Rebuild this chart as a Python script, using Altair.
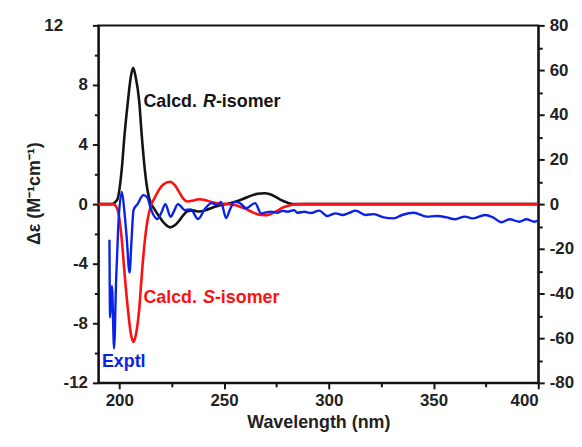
import altair as alt
import pandas as pd

# ---- data ----
# Calcd. R-isomer (right axis units)
r_wl = [190, 196, 199, 201.2, 202.5, 204.1, 205.5, 206.6, 207.8, 209.5, 210.7, 212, 213.5, 215,
        216.6, 219, 221.4, 224.2, 226.5, 228.5, 230.5, 232.5, 235, 238, 241, 244, 247, 250,
        255, 259, 263, 266, 269.3, 272, 275, 278, 281, 284, 400]
r_val = [0, 0, 2, 16, 31, 46, 57, 61, 57, 46, 31, 17, 6, 0.5,
         -2, -5.5, -8.5, -10.4, -9.5, -7.5, -5, -3.2, -2.8, -3.3, -2.8, -1.7, -0.8, -0.2,
         1, 2.3, 3.8, 4.6, 4.9, 4.4, 3, 1.5, 0.4, 0, 0]

# Calcd. S-isomer (right axis units)
s_wl = [190, 197, 199, 201.2, 202.5, 204.1, 205.5, 206.8, 208, 209.5, 210.7, 212, 213.5, 215,
        217, 219, 221, 224.2, 226.5, 228.5, 230.5, 232.5, 235, 238, 241, 244, 248, 252,
        256, 260, 264, 267, 269.5, 272, 275, 278, 281, 284, 287, 400]
s_val = [0, 0, -2, -16, -31, -47, -58, -61.7, -58, -47, -32, -18, -7, -1,
         3, 6.5, 8.8, 10, 8.5, 5.5, 2.5, 1.2, 1.5, 2.2, 1.8, 0.9, 0.2, 0,
         -0.6, -2, -3.8, -4.8, -5, -4.5, -3.2, -1.6, -0.6, -0.1, 0, 0]

# Exptl (left axis units)
exp_wl = [195.3, 195.6, 196.5, 197.5, 198.5, 199.5, 201.2, 202.5, 203.5, 204.9, 205.8, 206.8,
          208.7, 211.5, 213.4, 215, 218.2, 220, 222, 224.5, 226, 228, 231.3, 234, 237.6, 241,
          244, 247, 248.5, 251, 253, 255, 257.4, 260.6, 264.8, 267.7, 270, 272.4, 275.6, 278,
          280.3, 283.5, 285, 288.3, 291.4, 295.4, 299.3, 303.3, 306.5, 309.5, 312.8, 317.5,
          321.5, 326.2, 331, 335, 340.5, 346.8, 351.5, 356.3, 360.2, 365, 369, 374.5, 378.4,
          382.4, 386.3, 391, 394.3, 398.2, 400]
exp_val = [-2.4, -7.6, -5.5, -9.7, -5.0, -1.5, 0.82, -0.6, -2.2, -4.6, -2.5, -0.4,
           0.0, 0.6, 0.45, -0.3, -1.0, -0.6, 0.0, -0.85, -0.5, 0.0, -0.4, -0.35, -1.0, -0.3,
           0.07, -0.07, 0.15, -0.93, -0.3, 0.15, 0.09, -0.27, 0.07, -0.62, -0.55, -0.5, -0.58, -0.45,
           -0.51, -0.4, -0.58, -0.51, -0.6, -0.44, -0.8, -0.62, -0.73, -0.6, -0.44, -0.73,
           -0.67, -0.89, -0.96, -0.73, -0.58, -0.84, -0.8, -0.89, -1.02, -0.84, -0.96, -0.73, -0.89,
           -1.22, -1.02, -1.18, -1.02, -1.18, -1.1]

x_ticks = [200, 225, 250, 275, 300, 325, 350, 375, 400]
left_ticks = list(range(-12, 13, 2))
right_ticks = list(range(-80, 81, 10))

# annotation anchors (left-axis units)
label_wl = [211.5, 211.5, 191.7]
label_v = [6.83, -6.33, -10.6]

FONT = "Liberation Sans"
BLACK = "#141414"
RED = "#ff1010"
BLUE = "#0a22e8"

r_df = pd.DataFrame({"wl": r_wl, "v": r_val})
s_df = pd.DataFrame({"wl": s_wl, "v": s_val})
e_df = pd.DataFrame({"wl": exp_wl, "v": exp_val})

common_axis = dict(
    grid=False, domainColor=BLACK, domainWidth=2, tickColor=BLACK, tickWidth=2,
    labelFont=FONT, labelFontSize=17, labelFontWeight="bold", labelColor="#222222",
    titleFont=FONT, titleFontSize=18, titleFontWeight="bold", titleColor="#222222",
)

x_axis = alt.Axis(
    title="Wavelength (nm)", values=x_ticks,
    labelExpr="datum.value % 50 == 0 ? toString(datum.value) : ''",
    tickSize={"condition": {"test": "datum.value % 50 != 0", "value": 4}, "value": 6},
    labelPadding=4, titleY=45, titleBaseline="alphabetic", **common_axis)
x_enc = alt.X("wl:Q", scale=alt.Scale(domain=[190, 400], nice=False, zero=False), axis=x_axis)

left_axis = alt.Axis(
    orient="left", title="Δε (M⁻¹cm⁻¹)", values=left_ticks,
    labelExpr="datum.value % 4 == 0 ? toString(datum.value) : ''",
    tickSize={"condition": {"test": "datum.value % 4 != 0", "value": 4}, "value": 6},
    labelPadding={"condition": {"test": "datum.value == 12", "value": 30}, "value": 5},
    titleX=-64, titleY=169, titleBaseline="middle", titleAngle=270, **common_axis)
left_y = alt.Y("v:Q", scale=alt.Scale(domain=[-12, 12], nice=False), axis=left_axis)

right_axis = alt.Axis(
    orient="right", title=None, values=right_ticks,
    labelExpr="datum.value % 20 == 0 ? toString(datum.value) : ''",
    tickSize={"condition": {"test": "datum.value % 20 != 0", "value": 4}, "value": 6},
    labelPadding=5, **common_axis)
right_y = alt.Y("v:Q", scale=alt.Scale(domain=[-80, 80], nice=False), axis=right_axis)

black_line = alt.Chart(r_df).mark_line(color=BLACK, strokeWidth=2.6, interpolate="monotone").encode(x=x_enc, y=right_y)
red_line = alt.Chart(s_df).mark_line(color=RED, strokeWidth=2.6, interpolate="monotone").encode(x=x_enc, y=right_y)
calc = alt.layer(black_line, red_line)

blue_line = alt.Chart(e_df).mark_line(color=BLUE, strokeWidth=2.4, interpolate="monotone").encode(x=x_enc, y=left_y)


def piece(i, txt, dx, color, italic=False):
    df = pd.DataFrame({"wl": [label_wl[i]], "v": [label_v[i]], "t": [txt]})
    kw = dict(align="left", baseline="middle", dx=dx, font=FONT, fontSize=18,
              fontWeight="bold", color=color)
    if italic:
        kw["fontStyle"] = "italic"
    return alt.Chart(df).mark_text(**kw).encode(x=x_enc, y=left_y, text="t:N")


texts = [
    piece(0, "Calcd.", 0, BLACK), piece(0, "R", 60, BLACK, True), piece(0, "-isomer", 73, BLACK),
    piece(1, "Calcd.", 0, RED), piece(1, "S", 60, RED, True), piece(1, "-isomer", 72, RED),
    piece(2, "Exptl", 0, BLUE),
]

left_layer = alt.layer(blue_line, *texts)

chart = alt.layer(calc, left_layer).resolve_scale(y="independent").properties(
    width=443, height=360,
    autosize=alt.AutoSizeParams(type="none"),
    padding={"left": 91, "top": 16, "right": 36, "bottom": 50},
    background="white",
).configure_view(stroke=BLACK, strokeWidth=2)

chart.save("out.html", embed_options={"renderer": "svg", "actions": False})
